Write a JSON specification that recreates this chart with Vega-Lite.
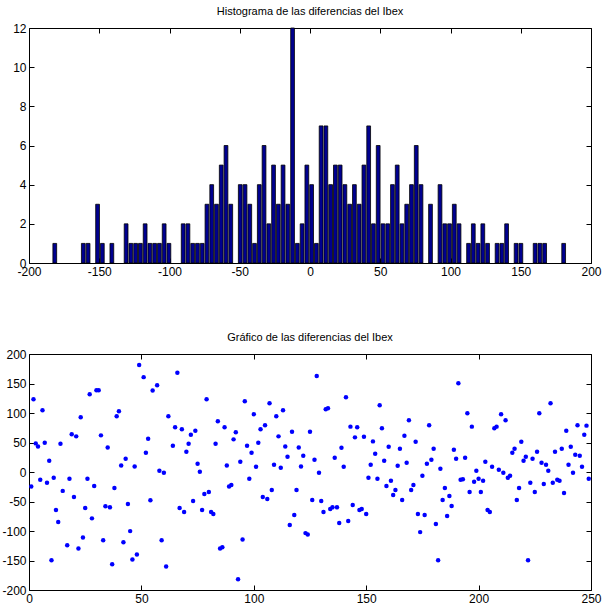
{
  "$schema": "https://vega.github.io/schema/vega-lite/v6.json",
  "padding": {"left": 1, "top": 6, "right": 5, "bottom": 0},
  "background": "white",
  "config": {
    "view": {"stroke": null},
    "font": "Liberation Sans",
    "concat": {"spacing": 55},
    "axis": {
      "grid": false,
      "domainColor": "black",
      "domainWidth": 1,
      "tickColor": "black",
      "tickWidth": 1,
      "tickSize": -5,
      "labelPadding": 8,
      "labelFont": "Liberation Sans",
      "labelFontSize": 12,
      "labelColor": "black",
      "labelFlush": false,
      "labelOverlap": false,
      "labelBound": false,
      "labelExpr": "datum.value < 0 ? '-' + abs(datum.value) : '' + datum.value"
    },
    "title": {"font": "Liberation Sans", "fontSize": 11, "fontWeight": "normal", "color": "black", "offset": 5}
  },
  "datasets": {
    "hist": [
      {"lo": -183.70, "hi": -180.32, "n": 1},
      {"lo": -163.39, "hi": -160.01, "n": 1},
      {"lo": -160.01, "hi": -156.62, "n": 1},
      {"lo": -153.24, "hi": -149.85, "n": 3},
      {"lo": -149.85, "hi": -146.47, "n": 1},
      {"lo": -143.08, "hi": -139.70, "n": 1},
      {"lo": -132.93, "hi": -129.54, "n": 2},
      {"lo": -129.54, "hi": -126.16, "n": 1},
      {"lo": -126.16, "hi": -122.77, "n": 1},
      {"lo": -122.77, "hi": -119.39, "n": 1},
      {"lo": -119.39, "hi": -116.00, "n": 2},
      {"lo": -116.00, "hi": -112.62, "n": 1},
      {"lo": -112.62, "hi": -109.23, "n": 1},
      {"lo": -109.23, "hi": -105.85, "n": 1},
      {"lo": -105.85, "hi": -102.46, "n": 2},
      {"lo": -102.46, "hi": -99.08, "n": 1},
      {"lo": -92.31, "hi": -88.92, "n": 2},
      {"lo": -88.92, "hi": -85.54, "n": 2},
      {"lo": -85.54, "hi": -82.15, "n": 1},
      {"lo": -82.15, "hi": -78.77, "n": 1},
      {"lo": -78.77, "hi": -75.38, "n": 1},
      {"lo": -75.38, "hi": -72.00, "n": 3},
      {"lo": -72.00, "hi": -68.61, "n": 4},
      {"lo": -68.61, "hi": -65.23, "n": 3},
      {"lo": -65.23, "hi": -61.84, "n": 5},
      {"lo": -61.84, "hi": -58.46, "n": 6},
      {"lo": -58.46, "hi": -55.07, "n": 3},
      {"lo": -51.69, "hi": -48.30, "n": 4},
      {"lo": -48.30, "hi": -44.92, "n": 4},
      {"lo": -44.92, "hi": -41.53, "n": 3},
      {"lo": -41.53, "hi": -38.15, "n": 1},
      {"lo": -38.15, "hi": -34.76, "n": 4},
      {"lo": -34.76, "hi": -31.38, "n": 6},
      {"lo": -31.38, "hi": -27.99, "n": 2},
      {"lo": -27.99, "hi": -24.61, "n": 5},
      {"lo": -24.61, "hi": -21.22, "n": 3},
      {"lo": -21.22, "hi": -17.84, "n": 5},
      {"lo": -17.84, "hi": -14.45, "n": 3},
      {"lo": -14.45, "hi": -11.07, "n": 12},
      {"lo": -11.07, "hi": -7.68, "n": 1},
      {"lo": -7.68, "hi": -4.30, "n": 2},
      {"lo": -4.30, "hi": -0.91, "n": 5},
      {"lo": -0.91, "hi": 2.48, "n": 4},
      {"lo": 2.48, "hi": 5.86, "n": 1},
      {"lo": 5.86, "hi": 9.25, "n": 7},
      {"lo": 9.25, "hi": 12.63, "n": 7},
      {"lo": 12.63, "hi": 16.02, "n": 4},
      {"lo": 16.02, "hi": 19.40, "n": 5},
      {"lo": 19.40, "hi": 22.79, "n": 5},
      {"lo": 22.79, "hi": 26.17, "n": 4},
      {"lo": 26.17, "hi": 29.56, "n": 3},
      {"lo": 29.56, "hi": 32.94, "n": 4},
      {"lo": 32.94, "hi": 36.33, "n": 3},
      {"lo": 36.33, "hi": 39.71, "n": 5},
      {"lo": 39.71, "hi": 43.10, "n": 7},
      {"lo": 43.10, "hi": 46.48, "n": 2},
      {"lo": 46.48, "hi": 49.87, "n": 6},
      {"lo": 49.87, "hi": 53.25, "n": 2},
      {"lo": 53.25, "hi": 56.64, "n": 2},
      {"lo": 56.64, "hi": 60.02, "n": 4},
      {"lo": 60.02, "hi": 63.41, "n": 5},
      {"lo": 63.41, "hi": 66.79, "n": 2},
      {"lo": 66.79, "hi": 70.18, "n": 3},
      {"lo": 70.18, "hi": 73.56, "n": 4},
      {"lo": 73.56, "hi": 76.95, "n": 6},
      {"lo": 76.95, "hi": 80.33, "n": 4},
      {"lo": 83.72, "hi": 87.10, "n": 3},
      {"lo": 90.49, "hi": 93.87, "n": 4},
      {"lo": 93.87, "hi": 97.26, "n": 2},
      {"lo": 97.26, "hi": 100.64, "n": 2},
      {"lo": 100.64, "hi": 104.03, "n": 3},
      {"lo": 104.03, "hi": 107.41, "n": 2},
      {"lo": 110.80, "hi": 114.18, "n": 1},
      {"lo": 114.18, "hi": 117.57, "n": 2},
      {"lo": 117.57, "hi": 120.95, "n": 1},
      {"lo": 120.95, "hi": 124.34, "n": 2},
      {"lo": 124.34, "hi": 127.72, "n": 1},
      {"lo": 131.11, "hi": 134.49, "n": 1},
      {"lo": 134.49, "hi": 137.88, "n": 1},
      {"lo": 137.88, "hi": 141.26, "n": 2},
      {"lo": 144.65, "hi": 148.03, "n": 1},
      {"lo": 148.03, "hi": 151.42, "n": 1},
      {"lo": 158.19, "hi": 161.57, "n": 1},
      {"lo": 161.57, "hi": 164.96, "n": 1},
      {"lo": 164.96, "hi": 168.34, "n": 1},
      {"lo": 178.50, "hi": 181.88, "n": 1}
    ],
    "diffs": [
      {"i": 1, "d": -24.7}, {"i": 2, "d": 123.4}, {"i": 3, "d": 48.5}, {"i": 4, "d": 43.4},
      {"i": 5, "d": -13.3}, {"i": 6, "d": 104.7}, {"i": 7, "d": 49.6}, {"i": 8, "d": -18.4},
      {"i": 9, "d": 19.0}, {"i": 10, "d": -149.5}, {"i": 11, "d": -9.9}, {"i": 12, "d": -64.4},
      {"i": 13, "d": -84.8}, {"i": 14, "d": 47.9}, {"i": 15, "d": -32.0}, {"i": 17, "d": -124.0},
      {"i": 18, "d": -11.6}, {"i": 19, "d": 63.8}, {"i": 20, "d": -42.3}, {"i": 21, "d": 60.4},
      {"i": 22, "d": -129.7}, {"i": 23, "d": 92.8}, {"i": 24, "d": -110.9}, {"i": 25, "d": -61.0},
      {"i": 26, "d": -11.6}, {"i": 27, "d": 131.9}, {"i": 28, "d": -78.6}, {"i": 29, "d": -23.6},
      {"i": 30, "d": 138.7}, {"i": 31, "d": 138.7}, {"i": 32, "d": 62.1}, {"i": 33, "d": -115.5},
      {"i": 34, "d": -58.2}, {"i": 35, "d": 41.7}, {"i": 36, "d": -59.9}, {"i": 37, "d": -156.3},
      {"i": 38, "d": -27.0}, {"i": 39, "d": 94.5}, {"i": 40, "d": 103.0}, {"i": 41, "d": 11.0},
      {"i": 42, "d": -118.9}, {"i": 43, "d": 22.4}, {"i": 44, "d": -54.2}, {"i": 45, "d": -100.2},
      {"i": 46, "d": -148.4}, {"i": 47, "d": 9.4}, {"i": 48, "d": -139.9}, {"i": 49, "d": 181.3},
      {"i": 51, "d": 160.8}, {"i": 52, "d": 32.6}, {"i": 53, "d": 56.4}, {"i": 54, "d": -48.0},
      {"i": 55, "d": 138.2}, {"i": 57, "d": 147.2}, {"i": 58, "d": 2.0}, {"i": 59, "d": -115.5},
      {"i": 60, "d": -1.4}, {"i": 61, "d": -160.3}, {"i": 62, "d": 94.5}, {"i": 64, "d": 44.5},
      {"i": 65, "d": 75.7}, {"i": 66, "d": 168.2}, {"i": 67, "d": -61.0}, {"i": 68, "d": 72.3},
      {"i": 69, "d": -67.8}, {"i": 70, "d": 34.3}, {"i": 71, "d": 47.9}, {"i": 72, "d": 63.3},
      {"i": 73, "d": -49.1}, {"i": 74, "d": 70.1}, {"i": 75, "d": 13.9}, {"i": 76, "d": 0.3},
      {"i": 77, "d": -64.4}, {"i": 78, "d": -37.2}, {"i": 79, "d": 123.4}, {"i": 80, "d": -33.8},
      {"i": 81, "d": -67.8}, {"i": 82, "d": -71.2}, {"i": 83, "d": 47.9}, {"i": 84, "d": 86.0},
      {"i": 85, "d": -129.7}, {"i": 86, "d": -127.4}, {"i": 87, "d": 75.7}, {"i": 88, "d": 11.0},
      {"i": 89, "d": -24.7}, {"i": 90, "d": -21.9}, {"i": 91, "d": 55.3}, {"i": 92, "d": 67.2},
      {"i": 93, "d": -181.9}, {"i": 94, "d": 17.3}, {"i": 95, "d": -114.3}, {"i": 96, "d": 120.0},
      {"i": 97, "d": 44.5}, {"i": 98, "d": -11.6}, {"i": 99, "d": 32.6}, {"i": 100, "d": 97.9},
      {"i": 101, "d": 8.8}, {"i": 102, "d": 49.6}, {"i": 103, "d": 72.3}, {"i": 104, "d": -42.3},
      {"i": 105, "d": 79.1}, {"i": 106, "d": -45.7}, {"i": 107, "d": 116.6}, {"i": 108, "d": -30.4},
      {"i": 109, "d": 12.2}, {"i": 110, "d": 94.5}, {"i": 111, "d": 60.4}, {"i": 112, "d": 7.1},
      {"i": 113, "d": 104.7}, {"i": 114, "d": 43.4}, {"i": 115, "d": 25.8}, {"i": 116, "d": -90.0},
      {"i": 117, "d": 68.4}, {"i": 118, "d": -72.9}, {"i": 119, "d": -30.4}, {"i": 120, "d": 41.7},
      {"i": 121, "d": 9.4}, {"i": 122, "d": 27.5}, {"i": 123, "d": -103.6}, {"i": 124, "d": -105.8},
      {"i": 125, "d": 68.4}, {"i": 126, "d": -47.4}, {"i": 127, "d": 20.7}, {"i": 128, "d": 162.6},
      {"i": 129, "d": -1.4}, {"i": 130, "d": -49.1}, {"i": 131, "d": -67.8}, {"i": 132, "d": 106.4},
      {"i": 133, "d": 108.1}, {"i": 134, "d": -62.7}, {"i": 135, "d": -59.9}, {"i": 136, "d": 24.1},
      {"i": 137, "d": -59.9}, {"i": 138, "d": -86.5}, {"i": 139, "d": 41.1}, {"i": 140, "d": 8.8},
      {"i": 141, "d": 126.8}, {"i": 142, "d": -83.1}, {"i": 143, "d": 76.9}, {"i": 144, "d": -55.9},
      {"i": 145, "d": 58.7}, {"i": 146, "d": 75.7}, {"i": 147, "d": -64.4}, {"i": 148, "d": -62.7},
      {"i": 149, "d": 59.9}, {"i": 150, "d": -71.2}, {"i": 151, "d": -9.9}, {"i": 152, "d": 12.2},
      {"i": 153, "d": 51.9}, {"i": 154, "d": 30.9}, {"i": 155, "d": -11.6}, {"i": 156, "d": 113.2},
      {"i": 157, "d": 74.0}, {"i": 158, "d": 19.0}, {"i": 159, "d": -23.6}, {"i": 160, "d": 42.8},
      {"i": 161, "d": -15.0}, {"i": 162, "d": -38.9}, {"i": 163, "d": -30.4}, {"i": 164, "d": 10.5},
      {"i": 165, "d": 39.4}, {"i": 166, "d": -47.4}, {"i": 167, "d": 61.6}, {"i": 168, "d": 15.6},
      {"i": 169, "d": 87.7}, {"i": 170, "d": -30.4}, {"i": 171, "d": -21.9}, {"i": 172, "d": 51.3},
      {"i": 173, "d": -71.2}, {"i": 174, "d": -101.9}, {"i": 175, "d": -6.5}, {"i": 176, "d": -72.9},
      {"i": 177, "d": 13.9}, {"i": 178, "d": 79.1}, {"i": 179, "d": 20.7}, {"i": 180, "d": 39.4},
      {"i": 181, "d": -88.2}, {"i": 182, "d": -149.5}, {"i": 183, "d": 5.4}, {"i": 184, "d": -47.4},
      {"i": 185, "d": -27.0}, {"i": 186, "d": -74.6}, {"i": 187, "d": -40.6}, {"i": 188, "d": -57.6},
      {"i": 189, "d": 37.7}, {"i": 190, "d": 22.4}, {"i": 191, "d": 150.6}, {"i": 192, "d": -13.3},
      {"i": 193, "d": -12.2}, {"i": 194, "d": 24.1}, {"i": 195, "d": 99.6}, {"i": 196, "d": -33.8},
      {"i": 197, "d": 76.9}, {"i": 198, "d": -16.7}, {"i": 199, "d": 2.0}, {"i": 200, "d": -11.6},
      {"i": 201, "d": -33.8}, {"i": 202, "d": -15.0}, {"i": 203, "d": 17.3}, {"i": 204, "d": -64.4},
      {"i": 205, "d": -67.8}, {"i": 206, "d": 8.8}, {"i": 207, "d": 74.0}, {"i": 208, "d": 76.9},
      {"i": 209, "d": 3.7}, {"i": 210, "d": 97.9}, {"i": 211, "d": -1.4}, {"i": 212, "d": 87.7},
      {"i": 213, "d": -9.9}, {"i": 214, "d": -6.5}, {"i": 215, "d": 32.6}, {"i": 216, "d": 39.4},
      {"i": 217, "d": -47.4}, {"i": 218, "d": -27.0}, {"i": 219, "d": 51.3}, {"i": 220, "d": 19.0},
      {"i": 221, "d": 25.8}, {"i": 222, "d": -149.5}, {"i": 223, "d": -18.4}, {"i": 224, "d": 22.4},
      {"i": 225, "d": -33.8}, {"i": 226, "d": 34.3}, {"i": 227, "d": 99.6}, {"i": 228, "d": 15.6},
      {"i": 229, "d": -20.2}, {"i": 230, "d": 12.2}, {"i": 231, "d": 2.0}, {"i": 232, "d": 116.6},
      {"i": 233, "d": -18.4}, {"i": 234, "d": 34.3}, {"i": 235, "d": -13.3}, {"i": 236, "d": -15.0},
      {"i": 237, "d": 39.4}, {"i": 238, "d": -35.5}, {"i": 239, "d": 70.1}, {"i": 240, "d": 12.2},
      {"i": 241, "d": 42.8}, {"i": 242, "d": -1.4}, {"i": 243, "d": 29.2}, {"i": 244, "d": 79.1},
      {"i": 245, "d": 27.5}, {"i": 246, "d": 8.8}, {"i": 247, "d": 63.3}, {"i": 248, "d": 78.6},
      {"i": 249, "d": -11.6}
    ]
  },
  "vconcat": [
    {
      "title": {"text": "Histograma de las diferencias del Ibex"},
      "width": 562,
      "height": 235,
      "data": {"name": "hist"},
      "layer": [
        {
          "mark": {"type": "bar", "fill": "#00008F", "stroke": "black", "strokeWidth": 0.8},
          "encoding": {
            "x": {"field": "lo", "type": "quantitative", "bin": "binned", "title": null,
                  "scale": {"domain": [-200, 200], "nice": false},
                  "axis": {"orient": "bottom", "values": [-200, -150, -100, -50, 0, 50, 100, 150, 200]}},
            "x2": {"field": "hi"},
            "y": {"field": "n", "type": "quantitative", "title": null,
                  "scale": {"domain": [0, 12], "nice": false},
                  "axis": {"orient": "left", "values": [0, 2, 4, 6, 8, 10, 12]}}
          }
        },
        {
          "mark": {"type": "point", "opacity": 0},
          "encoding": {
            "x": {"field": "lo", "type": "quantitative", "title": null,
                  "axis": {"orient": "top", "labels": false, "values": [-200, -150, -100, -50, 0, 50, 100, 150, 200]}},
            "y": {"field": "n", "type": "quantitative", "title": null,
                  "axis": {"orient": "right", "labels": false, "values": [0, 2, 4, 6, 8, 10, 12]}}
          }
        }
      ],
      "resolve": {"axis": {"x": "independent", "y": "independent"}}
    },
    {
      "title": {"text": "Gráfico de las diferencias del Ibex"},
      "width": 562,
      "height": 236,
      "data": {"name": "diffs"},
      "layer": [
        {
          "mark": {"type": "circle", "size": 20, "color": "#0000FF", "opacity": 1},
          "encoding": {
            "x": {"field": "i", "type": "quantitative", "title": null,
                  "scale": {"domain": [0, 250], "nice": false},
                  "axis": {"orient": "bottom", "values": [0, 50, 100, 150, 200, 250]}},
            "y": {"field": "d", "type": "quantitative", "title": null,
                  "scale": {"domain": [-200, 200], "nice": false},
                  "axis": {"orient": "left", "values": [-200, -150, -100, -50, 0, 50, 100, 150, 200]}}
          }
        },
        {
          "mark": {"type": "point", "opacity": 0},
          "encoding": {
            "x": {"field": "i", "type": "quantitative", "title": null,
                  "axis": {"orient": "top", "labels": false, "values": [0, 50, 100, 150, 200, 250]}},
            "y": {"field": "d", "type": "quantitative", "title": null,
                  "axis": {"orient": "right", "labels": false, "values": [-200, -150, -100, -50, 0, 50, 100, 150, 200]}}
          }
        }
      ],
      "resolve": {"axis": {"x": "independent", "y": "independent"}}
    }
  ]
}
